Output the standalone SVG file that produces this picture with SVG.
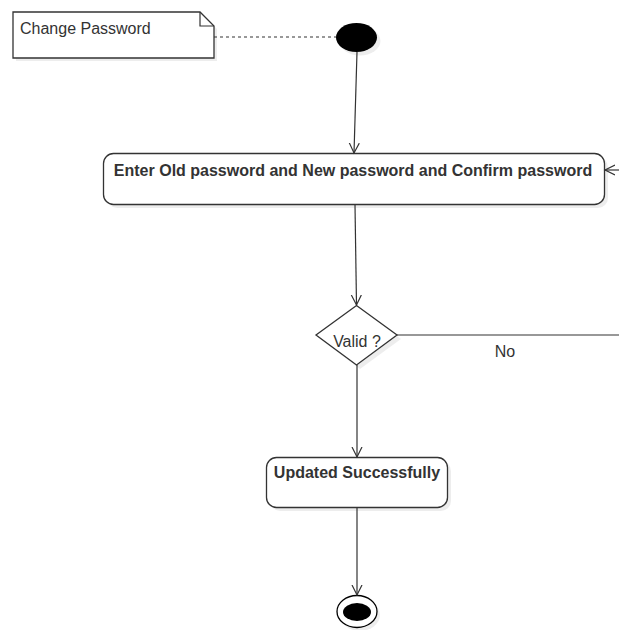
<svg xmlns="http://www.w3.org/2000/svg" width="619" height="630" viewBox="0 0 619 630">
<defs>
<marker id="open" markerWidth="12" markerHeight="12" refX="10" refY="5" orient="auto" markerUnits="userSpaceOnUse" viewBox="0 0 12 10">
<path d="M0,0 L10,5 L0,10" fill="none" stroke="#333" stroke-width="1.2"/>
</marker>
</defs>
<style>
.box{fill:#fff;stroke:#333;stroke-width:1.3}
.sh{fill:#000;opacity:0.07}
.lbl{font-family:"Liberation Sans",Arial,sans-serif;fill:#333}
.b{font-weight:bold;font-size:16px}
.r{font-size:16px}
.edge{fill:none;stroke:#333;stroke-width:1.2}
</style>
<rect width="619" height="630" fill="#fff"/>
<g id="note">
<path class="sh" d="M16,15 H203 L217,29 V61 H16 Z"/>
<path class="box" d="M13,12 H200 L214,26 V58 H13 Z"/>
<path class="edge" d="M200,12 V26 H214"/>
<text class="lbl r" x="20" y="34">Change Password</text>
</g>
<g id="start">
<ellipse class="sh" cx="360" cy="41" rx="20.5" ry="14.5"/>
<ellipse cx="356.5" cy="37.5" rx="20.5" ry="14.5" fill="#000"/>
</g>
<g id="enter">
<rect class="sh" x="107" y="157" width="501" height="51" rx="10"/>
<rect class="box" x="103.5" y="153.5" width="501" height="51" rx="10"/>
<text class="lbl b" x="353" y="176" text-anchor="middle">Enter Old password and New password and Confirm password</text>
</g>
<g id="valid">
<path class="sh" d="M360,309 L401,339 L360,369 L320,339 Z"/>
<path class="box" d="M356.5,305.5 L397,335 L356.5,365 L316,335 Z"/>
<text class="lbl r" x="357" y="347" text-anchor="middle">Valid ?</text>
</g>
<g id="updated">
<rect class="sh" x="270" y="461" width="181" height="50" rx="10"/>
<rect class="box" x="266.5" y="457.5" width="181" height="50" rx="10"/>
<text class="lbl b" x="357" y="478" text-anchor="middle">Updated Successfully</text>
</g>
<g id="end">
<ellipse class="sh" cx="360" cy="615" rx="20" ry="16"/>
<ellipse cx="357" cy="611.5" rx="20" ry="16" fill="#fff" stroke="#000" stroke-width="1.3"/>
<ellipse cx="357" cy="612" rx="14" ry="9" fill="#000"/>
</g>
<g id="connectors">
<path class="edge" stroke-dasharray="3,3" d="M214,37 H336"/>
<path class="edge" marker-end="url(#open)" d="M357,52 L354,153"/>
<path class="edge" marker-end="url(#open)" d="M355,205 L356.5,305"/>
<path class="edge" marker-end="url(#open)" d="M357,365 L357,457"/>
<path class="edge" marker-end="url(#open)" d="M357,508 L357,595"/>
<path class="edge" d="M397,335 H619"/>
<path class="edge" marker-end="url(#open)" d="M630,170 L605,170"/>
<text class="lbl r" x="505" y="357" text-anchor="middle">No</text>
</g>
</svg>
